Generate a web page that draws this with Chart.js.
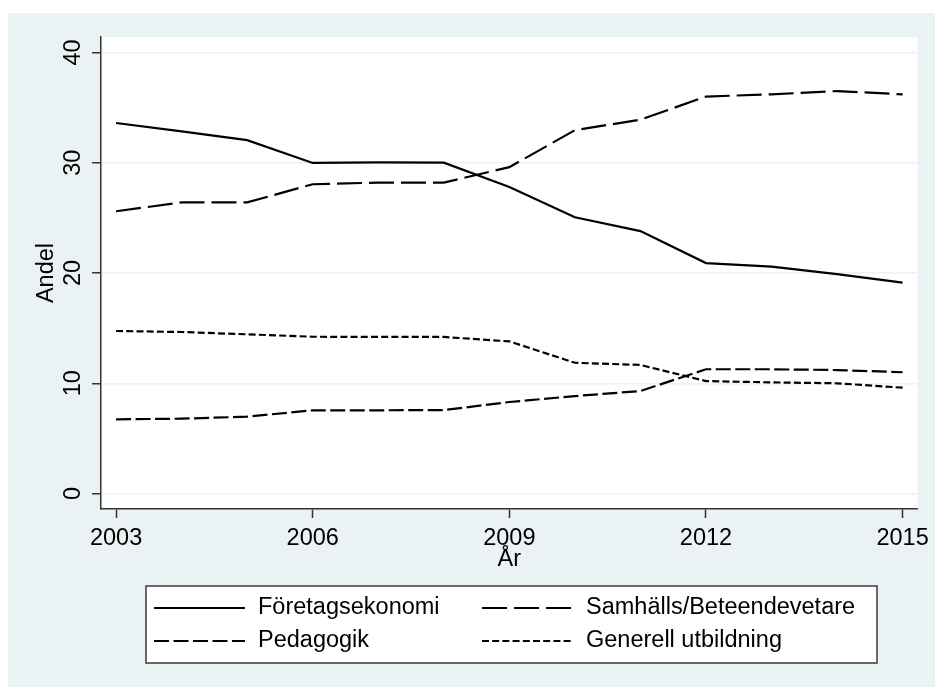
<!DOCTYPE html>
<html>
<head>
<meta charset="utf-8">
<script src="https://cdn.jsdelivr.net/npm/chart.js@4"></script>
<style>
  html, body { margin: 0; padding: 0; background: #fff; }
  canvas { display: block; }
</style>
</head>
<body>
<canvas id="chart" width="935" height="687"></canvas>
<script>
// Andel per utbildningsinriktning, 2003–2015
const years = [2003, 2004, 2005, 2006, 2007, 2008, 2009, 2010, 2011, 2012, 2013, 2014, 2015];
const foretagsekonomi = [33.6, 32.85, 32.05, 29.98, 30.04, 30.0, 27.8, 25.05, 23.8, 20.9, 20.57, 19.9, 19.12];
const samhallsBeteende = [25.6, 26.4, 26.4, 28.05, 28.2, 28.2, 29.6, 32.95, 33.9, 36.0, 36.2, 36.5, 36.2];
const pedagogik = [6.73, 6.79, 6.97, 7.55, 7.55, 7.57, 8.3, 8.84, 9.3, 11.27, 11.27, 11.2, 11.0];
const generellUtbildning = [14.74, 14.65, 14.44, 14.22, 14.2, 14.2, 13.8, 11.86, 11.66, 10.2, 10.08, 10.0, 9.6];
const seriesNames = ['Företagsekonomi', 'Samhälls/Beteendevetare', 'Pedagogik', 'Generell utbildning'];
const xTickValues = [2003, 2006, 2009, 2012, 2015];
const yTickValues = [0, 10, 20, 30, 40];

const FONT = '"Liberation Sans", Arial, Helvetica, sans-serif';
const FONT_SIZE = 23.5;
const REGION_BG = '#EAF2F3';
const AXIS_COLOR = '#333333';

const toPoints = vals => vals.map((v, i) => ({ x: years[i], y: v }));

function lineDataset(label, values, dash) {
  return {
    label,
    data: toPoints(values),
    borderColor: '#000',
    borderWidth: 2.2,
    borderDash: dash,
    borderCapStyle: 'butt',
    pointRadius: 0,
    tension: 0,
    fill: false
  };
}

// Graph region and plot region backgrounds
const backgroundPlugin = {
  id: 'regionBackground',
  beforeDraw(chart) {
    const { ctx, chartArea: a } = chart;
    ctx.save();
    ctx.fillStyle = '#fff';
    ctx.fillRect(0, 0, chart.width, chart.height);
    ctx.fillStyle = REGION_BG;
    ctx.fillRect(8, 13, chart.width - 8, chart.height - 13);
    ctx.fillStyle = '#fff';
    ctx.fillRect(a.left, a.top, a.right - a.left, a.bottom - a.top);
    ctx.restore();
  }
};

// Vertical y tick labels, placed from the y scale
const yLabelPlugin = {
  id: 'verticalYLabels',
  afterDraw(chart) {
    const { ctx } = chart;
    const s = chart.scales.y;
    ctx.save();
    ctx.font = FONT_SIZE + 'px ' + FONT;
    ctx.fillStyle = '#000';
    ctx.textAlign = 'center';
    ctx.textBaseline = 'middle';
    s.ticks.forEach((t, i) => {
      const py = s.getPixelForTick(i);
      ctx.save();
      ctx.translate(74, py);
      ctx.rotate(-Math.PI / 2);
      ctx.fillText(String(t.value), 0, 0);
      ctx.restore();
    });
    ctx.restore();
  }
};

// Two-column boxed legend below the axis title
const boxLegendPlugin = {
  id: 'boxLegend',
  afterDraw(chart) {
    const { ctx } = chart;
    const box = { left: 146, top: 586, right: 877, bottom: 663 };
    const colX = [154, 482];
    const rowY = [608, 641];
    const sampleLen = 91;
    ctx.save();
    ctx.fillStyle = '#fff';
    ctx.fillRect(box.left, box.top, box.right - box.left, box.bottom - box.top);
    ctx.strokeStyle = '#3a3a3a';
    ctx.lineWidth = 1.5;
    ctx.strokeRect(box.left, box.top, box.right - box.left, box.bottom - box.top);
    ctx.font = FONT_SIZE + 'px ' + FONT;
    ctx.textBaseline = 'middle';
    ctx.textAlign = 'left';
    chart.data.datasets.forEach((ds, i) => {
      const x = colX[i % 2];
      const y = rowY[Math.floor(i / 2)];
      ctx.strokeStyle = ds.borderColor;
      ctx.lineWidth = ds.borderWidth;
      ctx.lineCap = 'butt';
      ctx.setLineDash(ds.borderDash || []);
      ctx.beginPath();
      ctx.moveTo(x, y);
      ctx.lineTo(x + sampleLen, y);
      ctx.stroke();
      ctx.setLineDash([]);
      ctx.fillStyle = '#000';
      ctx.fillText(ds.label, x + 104, y);
    });
    ctx.restore();
  }
};

new Chart(document.getElementById('chart'), {
  type: 'line',
  data: {
    datasets: [
      lineDataset(seriesNames[0], foretagsekonomi, []),
      lineDataset(seriesNames[1], samhallsBeteende, [25, 7]),
      lineDataset(seriesNames[2], pedagogik, [15, 4.5]),
      lineDataset(seriesNames[3], generellUtbildning, [7, 3.2])
    ]
  },
  options: {
    responsive: false,
    animation: false,
    devicePixelRatio: 1,
    font: { family: FONT, size: FONT_SIZE },
    layout: { autoPadding: false, padding: { left: 0, top: 37, right: 13, bottom: 0 } },
    plugins: {
      legend: { display: false },
      tooltip: { enabled: false },
      title: { display: false }
    },
    scales: {
      x: {
        type: 'linear',
        min: 2002.77,
        max: 2015.23,
        afterBuildTicks(scale) { scale.ticks = xTickValues.map(v => ({ value: v })); },
        afterFit(scale) { scale.height = 178; },
        ticks: {
          color: '#000',
          font: { family: FONT, size: FONT_SIZE },
          padding: 6,
          maxRotation: 0,
          minRotation: 0,
          autoSkip: false,
          callback: v => String(v)
        },
        grid: {
          drawOnChartArea: false,
          drawTicks: true,
          tickLength: 9,
          tickColor: AXIS_COLOR,
          tickWidth: 1.5
        },
        border: { display: true, color: AXIS_COLOR, width: 1.5 },
        title: {
          display: true,
          text: 'År',
          color: '#000',
          font: { family: FONT, size: FONT_SIZE },
          padding: { top: 0, bottom: 113 }
        }
      },
      y: {
        type: 'linear',
        position: 'left',
        min: -1.4,
        max: 41.4,
        afterBuildTicks(scale) { scale.ticks = yTickValues.map(v => ({ value: v })); },
        afterFit(scale) { scale.width = 101; },
        ticks: {
          color: 'rgba(0,0,0,0)',
          font: { family: FONT, size: FONT_SIZE },
          autoSkip: false,
          callback: v => String(v)
        },
        grid: {
          color: REGION_BG,
          lineWidth: 1.5,
          drawTicks: true,
          tickLength: 9,
          tickColor: AXIS_COLOR,
          tickWidth: 1.5
        },
        border: { display: true, color: AXIS_COLOR, width: 1.5 },
        title: {
          display: true,
          text: 'Andel',
          color: '#000',
          font: { family: FONT, size: FONT_SIZE },
          padding: { top: 32, bottom: 0 }
        }
      }
    }
  },
  plugins: [backgroundPlugin, yLabelPlugin, boxLegendPlugin]
});
</script>
</body>
</html>
